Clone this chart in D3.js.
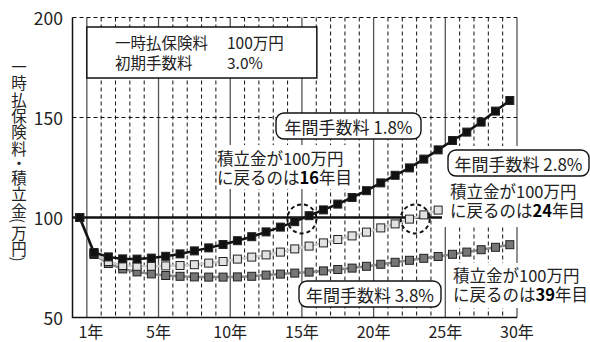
<!DOCTYPE html>
<html>
<head>
<meta charset="utf-8">
<script src="https://cdn.jsdelivr.net/npm/d3@7"></script>
<style>
  body { margin: 0; background: #fff; }
  svg { display: block; font-family: "Noto Sans CJK JP", "Noto Sans", sans-serif; }
</style>
</head>
<body>
<svg width="590" height="342"></svg>
<script>
// values (index 0 = payment, then year by year)
const fee18 = [100, 82.5, 80.3, 79.3, 79.2, 79.7, 80.6, 81.8, 83.3, 84.8, 86.5, 88.4, 90.4, 92.8, 95.2, 97.9,
               100.9, 103.8, 106.7, 110, 113.4, 117.3, 121.1, 124.8, 129.2, 133.8, 138.5, 142.7, 147.7, 153.2, 158.5];
const fee28 = [100, 82, 78, 76, 75.6, 75.6, 75.8, 76, 76.4, 77.2, 78, 79.2, 80.2, 81.3, 82.7, 84.3,
               85.7, 87.3, 89, 90.8, 92.7, 94.8, 96.8, 99.2, 101.3, 103.7];
const fee38 = [100, 81.5, 77, 74.3, 72.8, 71.8, 71, 70.6, 70.3, 70.2, 70.2, 70.3, 70.6, 71.2, 71.7, 72.2,
               72.7, 73.3, 74, 74.7, 75.6, 76.6, 77.6, 78.6, 79.6, 80.5, 81.6, 82.7, 83.9, 85.1, 86.4];
const yTicks = [50, 100, 150, 200];
const xTickYears = [0, 5, 10, 15, 20, 25, 30];
const xTickLabels = ["1年", "5年", "10年", "15年", "20年", "25年", "30年"];
const yTitle = ["一", "時", "払", "保", "険", "料", "・", "積", "立", "金", "(", "万", "円", ")"];
// where each curve gets back to 100
const crossings = [{i: 15.5, v: 99.3}, {i: 23.4, v: 99.3}];

const svg = d3.select("svg");

const x = d3.scaleLinear().domain([-1, 30]).range([72.5, 517]);
const y = d3.scaleLinear().domain([50, 200]).range([317.5, 17.5]);
const px = i => x(i - 0.5); // points sit in the middle of each year

// vertical grid
const grid = svg.append("g");
grid.selectAll("line.v")
  .data(d3.range(0, 31))
  .join("line")
  .attr("x1", d => x(d)).attr("x2", d => x(d))
  .attr("y1", y(200)).attr("y2", y(50))
  .attr("stroke", d => d % 5 == 0 ? "#555" : "#111")
  .attr("stroke-width", d => d % 5 == 0 ? 1.3 : 1)
  .attr("stroke-dasharray", d => d % 5 == 0 ? null : "4,3");

// horizontal dashed lines
grid.selectAll("line.h")
  .data([150, 200])
  .join("line")
  .attr("x1", x(-1)).attr("x2", x(30))
  .attr("y1", d => y(d)).attr("y2", d => y(d))
  .attr("stroke", "#111")
  .attr("stroke-dasharray", "4,3");

// 100 line
svg.append("line")
  .attr("x1", x(-1)).attr("x2", x(30))
  .attr("y1", y(100)).attr("y2", y(100))
  .attr("stroke", "#111").attr("stroke-width", 2.5);

// axes
svg.append("path")
  .attr("d", `M${x(-1)},${y(200)}V${y(50)}H${x(30)}`)
  .attr("fill", "none").attr("stroke", "#111").attr("stroke-width", 1.5);

svg.append("g").selectAll("text")
  .data(yTicks)
  .join("text")
  .attr("x", 63).attr("y", d => y(d))
  .attr("text-anchor", "end")
  .attr("dominant-baseline", "central")
  .attr("font-size", 17.5)
  .attr("fill", "#222")
  .text(d => d);

svg.append("g").selectAll("text")
  .data(xTickYears)
  .join("text")
  .attr("x", (d, i) => x(d) + (i == 0 ? 4 : 0))
  .attr("y", 331)
  .attr("text-anchor", "middle")
  .attr("dominant-baseline", "central")
  .attr("font-size", 16)
  .attr("fill", "#222")
  .text((d, i) => xTickLabels[i]);

// y axis title, one glyph at a time going down
let ty = 66;
const title = svg.append("g").attr("font-size", 15.5).attr("fill", "#222");
yTitle.forEach((c, k) => {
  const paren = c == "(" || c == ")";
  const prev = yTitle[k - 1];
  if (k > 0) ty += paren || prev == "(" || prev == ")" ? 11 : 16.3;
  if (c == "・" || prev == "・") ty -= 1.5;
  title.append("text")
    .attr("x", 0).attr("y", 0)
    .attr("transform", `translate(19,${ty})` + (paren ? " rotate(90)" : ""))
    .attr("text-anchor", "middle")
    .attr("dominant-baseline", "central")
    .text(c);
});

// legend box
svg.append("rect")
  .attr("x", x(0)).attr("y", 27).attr("width", 230).attr("height", 51)
  .attr("fill", "#fff").attr("stroke", "#111").attr("stroke-width", 1.5);
const legend = svg.append("g").attr("font-size", 15.5).attr("fill", "#222");
legend.append("text").attr("x", 115).attr("y", 42).attr("dominant-baseline", "central").text("一時払保険料");
legend.append("text").attr("x", 227).attr("y", 42).attr("dominant-baseline", "central").text("100万円");
legend.append("text").attr("x", 115).attr("y", 62).attr("dominant-baseline", "central").text("初期手数料");
legend.append("text").attr("x", 227).attr("y", 62).attr("dominant-baseline", "central").text("3.0%");

// white areas behind the notes
const notes = svg.append("g");
notes.selectAll("rect.bg")
  .data([[218, 145, 128, 44], [442, 146, 148, 81], [450, 263, 140, 45]])
  .join("rect")
  .attr("x", d => d[0]).attr("y", d => d[1]).attr("width", d => d[2]).attr("height", d => d[3])
  .attr("fill", "#fff");

// rounded boxes
const boxes = [
  {x: 276, y: 113, w: 145, label: "年間手数料 1.8%"},
  {x: 448, y: 150, w: 141, label: "年間手数料 2.8%"},
  {x: 299, y: 281, w: 142, label: "年間手数料 3.8%"}
];
notes.selectAll("rect.box")
  .data(boxes)
  .join("rect")
  .attr("x", d => d.x).attr("y", d => d.y).attr("width", d => d.w).attr("height", 26)
  .attr("rx", 8)
  .attr("fill", "#fff").attr("stroke", "#111").attr("stroke-width", 1.4);
notes.selectAll("text.box")
  .data(boxes)
  .join("text")
  .attr("x", d => d.x + d.w / 2).attr("y", d => d.y + 13)
  .attr("text-anchor", "middle")
  .attr("dominant-baseline", "central")
  .attr("font-size", 17)
  .attr("fill", "#222")
  .text(d => d.label);

// "back to 100" notes, two lines in one text
const backs = [
  {x: 217, y: 158, yr: "16"},
  {x: 450, y: 191, yr: "24"},
  {x: 453, y: 275, yr: "39"}
];
backs.forEach(b => {
  const t = notes.append("text")
    .attr("dominant-baseline", "central")
    .attr("font-size", 16.5).attr("fill", "#222");
  t.append("tspan").attr("x", b.x).attr("y", b.y).text("積立金が100万円");
  t.append("tspan").attr("x", b.x).attr("y", b.y + 19).text("に戻るのは");
  t.append("tspan").attr("font-weight", "bold").attr("fill", "#000").text(b.yr);
  t.append("tspan").text("年目");
});

// series
const series = [
  {values: fee38, line: "#8a8a8a", fill: "#767676"},
  {values: fee28, line: "#cfcfcf", fill: "#e2e2e2"},
  {values: fee18, line: "#111", fill: "#111"}
];
const line = d3.line().x((d, i) => px(i)).y(d => y(d));
series.forEach(s => {
  svg.append("path")
    .datum(s.values)
    .attr("d", line)
    .attr("fill", "none")
    .attr("stroke", s.line)
    .attr("stroke-width", 2.5);
  svg.append("g").selectAll("rect")
    .data(s.values)
    .join("rect")
    .attr("x", (d, i) => px(i) - 4)
    .attr("y", d => y(d) - 4)
    .attr("width", 8).attr("height", 8)
    .attr("fill", s.fill)
    .attr("stroke", "#222").attr("stroke-width", 1);
});

// dashed circles where the curves reach 100
svg.append("g").selectAll("circle")
  .data(crossings)
  .join("circle")
  .attr("cx", d => px(d.i)).attr("cy", d => y(d.v))
  .attr("r", 14.5)
  .attr("fill", "none")
  .attr("stroke", "#111").attr("stroke-width", 2)
  .attr("stroke-dasharray", "4,3");
</script>
</body>
</html>
